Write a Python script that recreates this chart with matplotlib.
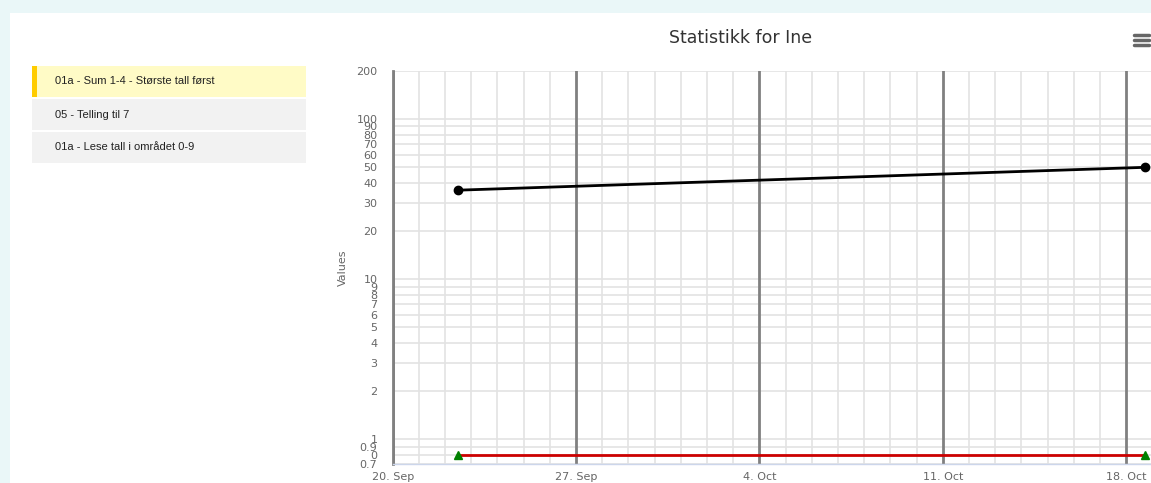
import matplotlib
matplotlib.use("Agg")
import matplotlib.pyplot as plt
import matplotlib.dates as mdates
from matplotlib.patches import Rectangle
from datetime import datetime, timedelta

# data
exercises = ["01a - Sum 1-4 - Største tall først", "05 - Telling til 7", "01a - Lese tall i området 0-9"]
black_dates = [datetime(2015, 9, 22, 12), datetime(2015, 10, 18, 17)]
black_values = [36, 50]
red_dates = [datetime(2015, 9, 22, 12), datetime(2015, 10, 18, 17)]
red_values = [0.8, 0.8]
week_ticks = [datetime(2015, 9, 20), datetime(2015, 9, 27), datetime(2015, 10, 4),
              datetime(2015, 10, 11), datetime(2015, 10, 18)]
week_labels = ["20. Sep", "27. Sep", "4. Oct", "11. Oct", "18. Oct"]
y_ticks = [0.7, 0.8, 0.9, 1, 2, 3, 4, 5, 6, 7, 8, 9, 10, 20, 30, 40, 50, 60, 70, 80, 90, 100, 200]
y_labels = ["0.7", "0", "0.9", "1", "2", "3", "4", "5", "6", "7", "8", "9", "10",
            "20", "30", "40", "50", "60", "70", "80", "90", "100", "200"]

W, H = 1151, 483
fig = plt.figure(figsize=(W / 100, H / 100), dpi=100)
fig.patch.set_facecolor("white")

# page background + sidebar drawn in pixel coordinates
bg = fig.add_axes([0, 0, 1, 1], zorder=0)
bg.set_xlim(0, W)
bg.set_ylim(H, 0)
bg.axis("off")
bg.add_patch(Rectangle((0, 0), W, 13, color="#eaf7f8", lw=0))
bg.add_patch(Rectangle((0, 0), 10, H, color="#eaf7f8", lw=0))
row_colors = ["#fffbc6", "#f2f2f2", "#f2f2f2"]
for i, name in enumerate(exercises):
    top = 66 + i * 33
    bg.add_patch(Rectangle((32, top), 274, 31, color=row_colors[i], lw=0))
    bg.text(55, top + 15.5, name, fontsize=8, family="Liberation Sans",
            color="#222222", va="center", ha="left")
bg.add_patch(Rectangle((32, 66), 5, 31, color="#ffcc00", lw=0))

# hamburger menu
for yy in (35, 40, 45):
    bg.plot([1134, 1149], [yy, yy], color="#666666", lw=2.5, solid_capstyle="round")

bg.text(741, 38, "Statistikk for Ine", fontsize=12.5, color="#333333", ha="center", va="center")

# chart
left, right = 392.7 / W, 1.0
bottom, top = (H - 464) / H, 1 - 71 / H
ax = fig.add_axes([left, bottom, right - left, top - bottom], zorder=1)
ax.patch.set_alpha(0)

ax.plot(black_dates, black_values, color="black", lw=2, marker="o", ms=6, zorder=4)
ax.plot(red_dates, red_values, color="#cc0000", lw=2, zorder=4)
ax.plot(red_dates, red_values, ls="none", marker="^", color="#008000", ms=6, zorder=5)

ax.set_yscale("log")
ax.set_ylim(0.7, 200)
ax.set_yticks(y_ticks)
ax.set_yticklabels(y_labels)
ax.yaxis.set_minor_locator(matplotlib.ticker.NullLocator())
ax.set_xlim(datetime(2015, 9, 20), datetime(2015, 9, 20) + timedelta(days=28.95))
ax.set_xticks(week_ticks)
ax.set_xticklabels(week_labels)
ax.xaxis.set_minor_locator(mdates.DayLocator())

ax.grid(True, axis="y", which="major", color="#e3e3e3", lw=1.2)
ax.grid(True, axis="x", which="minor", color="#e3e3e3", lw=1.2)
# weekly lines drawn over the horizontal grid
for d in week_ticks:
    ax.axvline(d, color="#808080", lw=2, zorder=2)
ax.set_axisbelow(True)

ax.tick_params(axis="both", which="both", length=0, labelsize=8, labelcolor="#666666")
ax.tick_params(axis="y", pad=11)
ax.tick_params(axis="x", pad=6)
for s in ("top", "right"):
    ax.spines[s].set_visible(False)
ax.spines["left"].set_color("#808080")
ax.spines["left"].set_linewidth(2)
ax.spines["bottom"].set_color("#ccd6eb")
ax.spines["bottom"].set_linewidth(1)

ax.set_ylabel("Values", fontsize=8, color="#666666", labelpad=6)

fig.savefig("out.png", dpi=100)
